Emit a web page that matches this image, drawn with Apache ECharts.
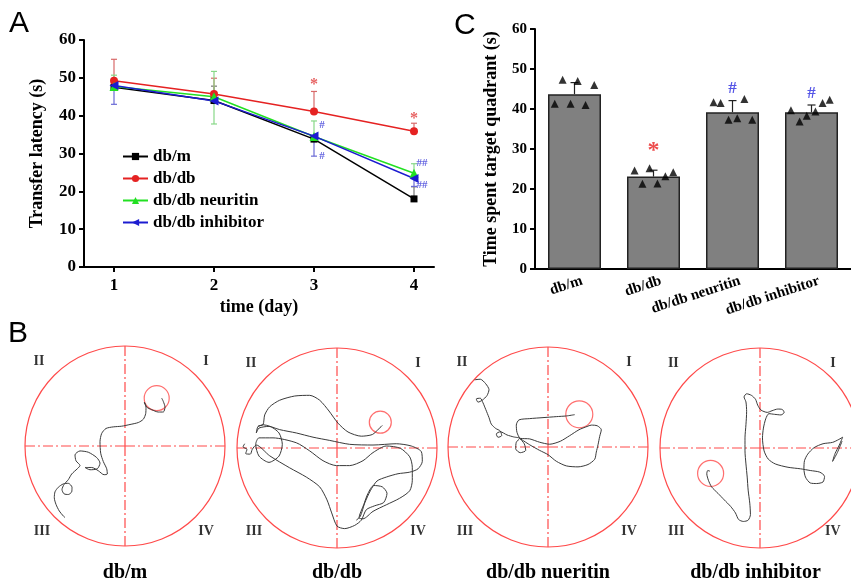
<!DOCTYPE html>
<html>
<head>
<meta charset="utf-8">
<script src="https://cdn.jsdelivr.net/npm/echarts@6/dist/echarts.min.js"></script>
<style>
  html, body { margin: 0; padding: 0; background: #fff; }
  #main { width: 851px; height: 584px; }
</style>
</head>
<body>
<div id="main"></div>
<script>
// ---- data ----
const days = [1, 2, 3, 4];
const groups = ['db/m', 'db/db', 'db/db neuritin', 'db/db inhibitor'];

// panel A: transfer latency (s)
const latencyDbm = [47.5, 44.0, 33.8, 18.0];
const latencyDbdb = [49.2, 45.7, 41.1, 35.9];
const latencyNeuritin = [47.7, 45.0, 34.5, 24.8];
const latencyInhibitor = [48.0, 43.9, 34.6, 23.4];
const errUpDbm = [0, 3.8, 0, 3.2];
const errDownDbm = [0, 0, 0, 0];
const errUpDbdb = [5.7, 4.2, 5.3, 2.1];
const errDownDbdb = [0, 0, 0, 0];
const errUpNeuritin = [3.0, 6.7, 4.1, 2.5];
const errDownNeuritin = [0, 7.2, 0, 0];
const errUpInhibitor = [0, 0, 0, 0];
const errDownInhibitor = [5.0, 0, 5.3, 2.1];
// significance marks: [day, value, text]
const starsA = [[3, 48.6, '*'], [4, 39.7, '*']];
const hashesA = [[3, 37.6, '#'], [3, 29.4, '#'], [4, 27.5, '##'], [4, 21.6, '##']];

// panel C: time spent in target quadrant (s)
const quadrantTime = [43.7, 23.1, 39.2, 39.2];
const quadrantErr = [2.9, 1.6, 2.9, 1.8];
// individual animals: [offset from bar centre, value]
const pointsDbm = [[-0.25, 41.3], [-0.15, 47.3], [-0.05, 41.3], [0.04, 47.0], [0.14, 41.0], [0.25, 46.0]];
const pointsDbdb = [[-0.24, 24.6], [-0.14, 21.3], [-0.05, 25.2], [0.05, 21.4], [0.15, 23.2], [0.25, 24.2]];
const pointsNeuritin = [[-0.24, 41.7], [-0.15, 41.5], [-0.05, 37.3], [0.06, 37.7], [0.15, 42.5], [0.25, 37.3]];
const pointsInhibitor = [[-0.26, 39.7], [-0.15, 36.9], [-0.06, 38.3], [0.05, 39.4], [0.14, 41.5], [0.23, 42.3]];
const starsC = [[1, 29.6, '*']];
const hashesC = [[2, 45.1, '#'], [3, 43.8, '#']];

// panel B: swim paths, pool radius = 100
const poolNames = ['db/m', 'db/db', 'db/db nueritin', 'db/db inhibitor'];
const quadrantLabels = [[-86, 84, 'II'], [81, 84, 'I'], [-83, -87, 'III'], [81, -87, 'IV']];
const platformDbm = [31.7, 47.3];
const platformDbdb = [43.3, 24.3];
const platformNeuritin = [31.3, 31.7];
const platformInhibitor = [-47, -28];

const pathDbm = [[-60,-73.3],[-61.7,-71.7],[-65.7,-66.7],[-69,-60],[-70.7,-53.3],[-70,-47.3],[-66.7,-42.7],
  [-61.7,-39.3],[-56.7,-38.7],[-53,-42.7],[-53.3,-47.3],[-56.7,-50],[-61,-49.3],[-63,-45],[-61,-40],
  [-56.7,-35],[-53.3,-29.3],[-47.7,-24],[-45,-20.7],[-49,-16],[-50,-10],[-45,-6],[-36.7,-7.3],
  [-28.3,-12.7],[-25,-18.3],[-27.7,-24],[-35,-25],[-40,-22.7],[-33.3,-22.7],[-26.7,-26],[-21,-30],
  [-17.7,-29.3],[-18.3,-24],[-21.7,-16.7],[-24.3,-8.3],[-25,3.3],[-23.3,11.7],[-19,16.7],[-11.7,18.3],
  [-3.3,19],[5,20.7],[13.3,22.7],[18.3,26],[20.7,31.7],[21,38.3],[19.3,43.3],[21.7,38.3],[26.7,35.7],
  [33.3,33.3],[38.3,33.3],[40,38.3],[38.3,44],[36.7,47.3]];

const pathDbdbA = [[-92.3,2.3],[-94,-1],[-90,-3.3],[-91.3,-7.7],[-86.7,-8.3],[-84.7,-3.3],[-80.7,1],
  [-67.3,-10],[-47.3,-22.3],[-30.7,-31.7],[-17.3,-41.7],[-10,-55],[-5.3,-68.3],[0,-81.7],[7.7,-84.3],
  [17.7,-81],[24.3,-75.7],[29.3,-65],[37.7,-61],[46.7,-57.7],[50,-48.3],[45.3,-41.7],[36.7,-40.3],
  [31,-48.3],[26.7,-60],[22,-73.3],[26,-74.3],[36,-66.7],[49.3,-60],[62.7,-53.3],[72.7,-45.7],
  [75.3,-35],[75.3,-21.7],[72.7,-11],[63.3,-2.3],[49.3,0],[36,-6.7],[26,-15],[12.7,-20],[-0.7,-20],
  [-14,-15],[-27.3,-5],[-40.7,3.3],[-64,8.3],[-78,8.3],[-81.3,1.7],[-78,-10.3],[-68,-16.7],[-58,-10.3],
  [-54.7,1.7],[-58,13.3],[-68,20],[-78,18.3],[-80.7,13.3],[-79,20],[-74,21.7],[-72.3,31.7],[-67.3,40],
  [-57.3,46.7],[-42.3,51],[-27.3,51.7],[-17.3,46.7],[-8,35.7],[1,23.3],[11,14.3],[24.3,10],[35.3,11.7],
  [42,17.7],[45.3,21]];
const pathDbdbB = [[-79,20],[-74,21.7],[-57.3,16.7],[-40.7,13.3],[-24,9],[-7.3,5.7],[12.7,1.7],[36,1],
  [59.3,2.3],[74.3,0],[84.3,-5.7],[85.3,-15.7],[81,-23.3],[72.7,-26.7],[61,-28.3],[49.3,-31.7],
  [40,-35.7],[33.3,-45.7],[27.7,-58.3],[23.3,-71.7],[19.3,-75.7]];

const pathNeuritin = [[-73.3,66.7],[-67.7,67.3],[-62.3,62.7],[-59,56.7],[-61,50.7],[-65.7,46],[-70,44],
  [-71.7,47.3],[-67.7,48],[-65,43.3],[-62.3,36.7],[-59,28.3],[-56.7,21.7],[-52.3,17.3],[-47.7,14.7],
  [-46.3,10],[-50,8.3],[-51.7,11.7],[-47.7,14],[-41,10.7],[-34.3,8.7],[-28.3,7.3],[-31.7,3.3],
  [-32.3,-3.3],[-27.7,-7.3],[-22.3,-5],[-23.7,1.7],[-28.3,7.3],[-18.3,0.7],[-8.3,-5],[0,-9.3],[8.3,-16],
  [18.3,-20.7],[30,-21.7],[40,-19.3],[46.7,-14],[48.3,-6.7],[50,0.7],[51.7,9.3],[53.3,16],[49.3,20],
  [43.3,20.7],[39,19.3],[31,16],[21.7,10],[12.3,4.3],[1.7,1.3],[-8.3,3.3],[-18.3,6.7],[-27.7,7.3],
  [-31,13.3],[-31.7,20.7],[-29,26],[-18.3,27.3],[-5,28.3],[8.3,29.3],[18.3,30],[26.7,31.3]];

const pathInhibitor = [[-47.7,-25.7],[-50,-25],[-51,-28.3],[-49.3,-35],[-46,-41.7],[-39.3,-48.3],
  [-32.7,-55],[-26,-61.7],[-21,-68.3],[-17.7,-75],[-12.7,-77],[-7.7,-75.7],[-5.3,-70],[-6,-58.3],
  [-7.7,-45],[-8.7,-31.7],[-10,-18.3],[-11,-5],[-11,8.3],[-10,21.7],[-9.3,35],[-10,45],[-12,50],
  [-9.3,53.3],[-4.3,51.7],[0,47.7],[2.3,41.7],[5.7,36.7],[12.3,34.3],[17.3,36],[23.3,37.7],[28,37.3],
  [30,34.3],[26.7,31.7],[20,32.3],[14,33],[10.7,27.7],[8.3,18.3],[7.3,8.3],[9,-5],[13.3,-13.3],
  [20.7,-18.3],[34,-21.7],[47.3,-23.3],[57.3,-25],[67.3,-26.7],[72.3,-31],[70.7,-36.7],[64,-38.3],
  [57.3,-37.7],[52.3,-31.7],[50.7,-23.3],[51.3,-15],[54.7,-8.3],[61.3,-1.7],[70.7,2.3],[80.7,3.7],
  [87.3,6.7],[91.3,9],[87.3,0],[83.3,-7.7],[80.7,-15.7],[85.7,-6.7],[90.7,5]];

// ---- chart ----
const serif = '"Liberation Serif", "Times New Roman", serif';
const sans = '"Liberation Sans", Arial, sans-serif';
const POOL_RED = '#ff4a4a';
const boldText = (size) => ({ fontFamily: serif, fontWeight: 'bold', fontSize: size, color: '#000' });

// pool layout (pixel centres)
const pools = [
  { cx: 125, cy: 446, paths: [pathDbm], platform: platformDbm, size: 25 },
  { cx: 337, cy: 448, paths: [pathDbdbA, pathDbdbB], platform: platformDbdb, size: 22 },
  { cx: 548, cy: 447, paths: [pathNeuritin], platform: platformNeuritin, size: 27 },
  { cx: 760, cy: 448, paths: [pathInhibitor], platform: platformInhibitor, size: 26 }
];

// error bar helper: data items [x, mean, low, high]
function errorBars(data, color, capHalf, xIdx, yIdx) {
  return {
    type: 'custom', xAxisIndex: xIdx, yAxisIndex: yIdx, data: data, z: 1, silent: true,
    encode: { x: 0, y: [1, 2, 3] },
    renderItem: function (params, api) {
      const x = api.value(0), m = api.value(1), lo = api.value(2), hi = api.value(3);
      const pLo = api.coord([x, lo]), pHi = api.coord([x, hi]);
      const style = { stroke: color, lineWidth: 1.2, fill: null };
      const children = [{ type: 'line', shape: { x1: pLo[0], y1: pLo[1], x2: pHi[0], y2: pHi[1] }, style: style }];
      if (hi > m) children.push({ type: 'line', shape: { x1: pHi[0] - capHalf, y1: pHi[1], x2: pHi[0] + capHalf, y2: pHi[1] }, style: style });
      if (lo < m) children.push({ type: 'line', shape: { x1: pLo[0] - capHalf, y1: pLo[1], x2: pLo[0] + capHalf, y2: pLo[1] }, style: style });
      return { type: 'group', children: children };
    }
  };
}
const errData = (vals, up, down) => days.map((d, i) => [d, vals[i], vals[i] - down[i], vals[i] + up[i]])
  .filter((r, i) => up[i] > 0 || down[i] > 0);

const lineDefs = [
  { name: groups[0], vals: latencyDbm, up: errUpDbm, down: errDownDbm, color: '#000000', err: '#777777', symbol: 'rect', size: 7, rot: 0 },
  { name: groups[1], vals: latencyDbdb, up: errUpDbdb, down: errDownDbdb, color: '#e52222', err: '#d86a6a', symbol: 'circle', size: 8, rot: 0 },
  { name: groups[2], vals: latencyNeuritin, up: errUpNeuritin, down: errDownNeuritin, color: '#22e022', err: '#88d888', symbol: 'triangle', size: 9, rot: 0 },
  { name: groups[3], vals: latencyInhibitor, up: errUpInhibitor, down: errDownInhibitor, color: '#1c1cd0', err: '#6b6bd6', symbol: 'triangle', size: 9, rot: 90 }
];

const series = [];
lineDefs.forEach(function (d) {
  series.push(errorBars(errData(d.vals, d.up, d.down), d.err, 3, 0, 0));
});
lineDefs.forEach(function (d) {
  series.push({
    type: 'line', name: d.name, xAxisIndex: 0, yAxisIndex: 0, z: 3,
    data: days.map((x, i) => [x, d.vals[i]]),
    symbol: d.symbol, symbolSize: d.size, symbolRotate: d.rot,
    lineStyle: { color: d.color, width: 1.5 }, itemStyle: { color: d.color }
  });
});
const markSeries = (data, color, size, xIdx, yIdx, offset) => ({
  type: 'scatter', xAxisIndex: xIdx, yAxisIndex: yIdx, data: data, symbolSize: 1, silent: true, z: 5,
  itemStyle: { color: 'transparent' },
  label: { show: true, position: 'inside', offset: offset, formatter: p => p.data[2],
    color: color, fontSize: size, fontFamily: serif, fontWeight: 'bold' }
});
series.push(markSeries(starsA, '#e03a3a', 16, 0, 0, [0, 2]));
series.push(markSeries(hashesA, '#3a3ad8', 11, 0, 0, [8, 0]));

// panel C
series.push({
  type: 'bar', xAxisIndex: 1, yAxisIndex: 1, data: quadrantTime, barWidth: 53, z: 2,
  itemStyle: { color: '#808080', borderColor: '#222', borderWidth: 1.5 }
});
series.push(errorBars(quadrantTime.map((v, i) => [i, v, v, v + quadrantErr[i]]), '#222', 4, 2, 1));
[pointsDbm, pointsDbdb, pointsNeuritin, pointsInhibitor].forEach(function (pts, i) {
  series.push({
    type: 'scatter', xAxisIndex: 2, yAxisIndex: 1, z: 4, symbol: 'triangle', symbolSize: 8,
    itemStyle: { color: '#000' }, data: pts.map(p => [i + p[0], p[1]])
  });
});
series.push(markSeries(starsC, '#e82020', 24, 2, 1, [0, 0]));
series.push(markSeries(hashesC, '#2a2ae0', 17, 2, 1, [0, 0]));

// panel B
pools.forEach(function (p, i) {
  series.push({ type: 'line', coordinateSystem: 'polar', polarIndex: i, data: [], silent: true });
  p.paths.forEach(function (seg) {
    series.push({
      type: 'line', xAxisIndex: 3 + i, yAxisIndex: 2 + i, data: seg, symbol: 'none', smooth: 0.25,
      silent: true, lineStyle: { color: '#3a3a3a', width: 1 }
    });
  });
  series.push({
    type: 'scatter', xAxisIndex: 3 + i, yAxisIndex: 2 + i, data: [p.platform], symbol: 'circle',
    symbolSize: p.size, silent: true, itemStyle: { color: 'transparent', borderColor: POOL_RED, borderWidth: 1.2 }
  });
  series.push({
    type: 'scatter', xAxisIndex: 3 + i, yAxisIndex: 2 + i, data: quadrantLabels, symbolSize: 1, silent: true,
    itemStyle: { color: 'transparent' },
    label: { show: true, position: 'inside', formatter: q => q.data[2], ...boldText(14) }
  });
});

const option = {
  animation: false,
  backgroundColor: '#fff',
  graphic: [
    { type: 'text', left: 9, top: 9, style: { text: 'A', fontSize: 30, fontFamily: sans, fill: '#000' } },
    { type: 'text', left: 454, top: 11, style: { text: 'C', fontSize: 30, fontFamily: sans, fill: '#000' } },
    { type: 'text', left: 8, top: 319, style: { text: 'B', fontSize: 30, fontFamily: sans, fill: '#000' } }
  ],
  legend: {
    data: groups, orient: 'vertical', left: 117, top: 143, itemWidth: 25, itemHeight: 9, itemGap: 5,
    textStyle: { ...boldText(17), lineHeight: 17 }
  },
  grid: [
    { left: 84, top: 40, width: 350, height: 227 },
    { left: 535, top: 29, width: 324, height: 240 }
  ].concat(pools.map(p => ({ left: p.cx - 100, top: p.cy - 100, width: 200, height: 200 }))),
  polar: pools.map(p => ({ center: [p.cx, p.cy], radius: 100 })),
  angleAxis: pools.map((p, i) => ({
    polarIndex: i, type: 'value', min: 0, max: 360, interval: 90, startAngle: 90,
    axisLine: { lineStyle: { color: POOL_RED, width: 1.2 } },
    axisTick: { show: false }, axisLabel: { show: false },
    splitLine: { show: true, lineStyle: { color: POOL_RED, width: 1.2, type: [10, 3, 2, 3] } }
  })),
  radiusAxis: pools.map((p, i) => ({ polarIndex: i, type: 'value', min: 0, max: 1, show: false, splitLine: { show: false } })),
  xAxis: [
    {
      gridIndex: 0, type: 'value', min: 0.7, max: 4.2,
      axisLine: { onZero: false, lineStyle: { color: '#000', width: 2 } },
      axisTick: { show: true, customValues: days, length: 5, lineStyle: { color: '#000', width: 2 } },
      axisLabel: { customValues: days, margin: 10, ...boldText(17) },
      splitLine: { show: false },
      name: 'time (day)', nameLocation: 'middle', nameGap: 31, nameTextStyle: boldText(18)
    },
    {
      gridIndex: 1, type: 'category', data: groups,
      axisLine: { onZero: false, lineStyle: { color: '#000', width: 2 } },
      axisTick: { show: false },
      axisLabel: { interval: 0, rotate: 18, margin: 14, padding: [0, -8, 0, 0], ...boldText(15) }
    },
    { gridIndex: 1, type: 'value', min: -0.5, max: 3.5, show: false }
  ].concat(pools.map((p, i) => ({
    gridIndex: 2 + i, type: 'value', min: -100, max: 100,
    axisLine: { show: false, onZero: false }, axisTick: { show: false }, axisLabel: { show: false }, splitLine: { show: false },
    name: poolNames[i], nameLocation: 'middle', nameGap: 19, nameTextStyle: boldText(20)
  }))),
  yAxis: [
    {
      gridIndex: 0, type: 'value', min: 0, max: 60, interval: 10,
      axisLine: { show: true, onZero: false, lineStyle: { color: '#000', width: 2 } },
      axisTick: { show: true, length: 5, lineStyle: { color: '#000', width: 2 } },
      axisLabel: { margin: 8, ...boldText(17) },
      splitLine: { show: false },
      name: 'Transfer latency (s)', nameLocation: 'middle', nameGap: 38, nameTextStyle: boldText(18)
    },
    {
      gridIndex: 1, type: 'value', min: 0, max: 60, interval: 10,
      axisLine: { show: true, onZero: false, lineStyle: { color: '#000', width: 2 } },
      axisTick: { show: true, length: 5, lineStyle: { color: '#000', width: 2 } },
      axisLabel: { margin: 8, ...boldText(15) },
      splitLine: { show: false },
      name: 'Time spent target quadrant (s)', nameLocation: 'middle', nameGap: 35, nameTextStyle: boldText(18)
    }
  ].concat(pools.map((p, i) => ({ gridIndex: 2 + i, type: 'value', min: -100, max: 100, show: false }))),
  series: series
};

const chart = echarts.init(document.getElementById('main'));
chart.setOption(option);
</script>
</body>
</html>
